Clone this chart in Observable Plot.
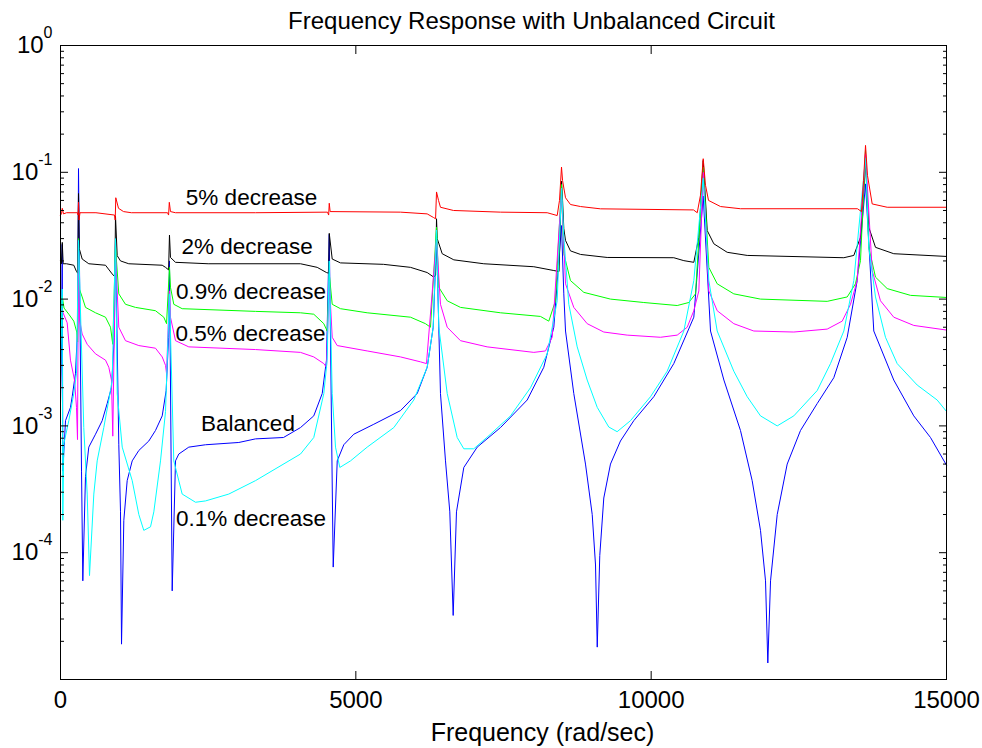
<!DOCTYPE html>
<html>
<head>
<meta charset="utf-8">
<script src="https://cdn.jsdelivr.net/npm/d3@7"></script>
<script src="https://cdn.jsdelivr.net/npm/@observablehq/plot@0.6"></script>
<style>
  html, body { margin: 0; padding: 0; background: #fff; }
  #chart svg { display: block; }
</style>
</head>
<body>
<div id="chart"></div>
<script>
// ---- Data: [frequency (rad/sec), magnitude] ----
const balanced = [[0,0.0015],[20,0.005],[29,0.027],[39,0.00044],[85,0.0011],[169,0.0014],[198,0.0017],[254,0.0026],[290,0.006],[305,0.107],[356,0.00044],[378,0.00006],[423,0.0004],[479,0.00068],[593,0.00086],[706,0.0011],[790,0.0015],[863,0.002],[910,0.005],[931,0.03],[987,0.00071],[1016,0.00021],[1033,0.000019],[1072,0.00018],[1129,0.00037],[1214,0.00053],[1326,0.00064],[1495,0.00076],[1608,0.00092],[1722,0.0012],[1789,0.0019],[1830,0.005],[1845,0.02],[1891,0.00005],[1947,0.00053],[2003,0.0006],[2172,0.00068],[2455,0.00071],[3019,0.00074],[3301,0.00079],[3775,0.00081],[4063,0.00097],[4288,0.0012],[4431,0.0018],[4503,0.0033],[4550,0.0324],[4617,0.000077],[4685,0.00053],[4796,0.00071],[4966,0.00086],[5304,0.00103],[5756,0.00132],[6039,0.0018],[6208,0.0029],[6310,0.006],[6366,0.03],[6433,0.0018],[6518,0.00053],[6591,0.00021],[6648,0.000032],[6704,0.00021],[6828,0.00047],[7055,0.00068],[7449,0.00097],[7901,0.0016],[8182,0.0029],[8352,0.006],[8482,0.038],[8521,0.011],[8550,0.0056],[8690,0.0018],[8888,0.0005],[9002,0.0002],[9058,0.00008],[9087,0.000018],[9130,0.000095],[9198,0.00027],[9311,0.0005],[9480,0.00076],[9706,0.0011],[10045,0.0017],[10383,0.0031],[10722,0.0072],[10881,0.065],[11005,0.0056],[11231,0.0023],[11512,0.00092],[11710,0.00037],[11851,0.00015],[11936,0.00006],[11975,0.0000135],[12021,0.00006],[12134,0.0002],[12303,0.0005],[12528,0.00092],[12811,0.0015],[13092,0.0024],[13319,0.005],[13488,0.014],[13629,0.081],[13769,0.0056],[14107,0.0023],[14446,0.0012],[14729,0.00081],[15000,0.00049]];

const dec01 = [[0,0.0025],[29,0.012],[39,0.00018],[56,0.00072],[141,0.0011],[225,0.0018],[271,0.0026],[305,0.029],[394,0.00097],[452,0.00029],[491,0.000066],[564,0.00029],[621,0.00053],[733,0.00097],[818,0.0016],[875,0.0023],[931,0.030],[960,0.0018],[1045,0.00068],[1214,0.00037],[1326,0.0002],[1410,0.00015],[1524,0.00016],[1580,0.00021],[1693,0.00053],[1778,0.0013],[1845,0.011],[1918,0.00053],[2060,0.00029],[2286,0.00025],[2455,0.000256],[2849,0.00029],[3301,0.00037],[4063,0.0006],[4288,0.00081],[4458,0.0018],[4515,0.0033],[4550,0.02],[4600,0.0018],[4656,0.00068],[4729,0.00047],[4910,0.00053],[5192,0.00068],[5643,0.00097],[5981,0.0016],[6208,0.0029],[6310,0.006],[6366,0.035],[6405,0.006],[6547,0.0018],[6716,0.00081],[6828,0.00066],[6997,0.00066],[7280,0.00086],[7619,0.0012],[7957,0.002],[8240,0.0037],[8409,0.0097],[8482,0.075],[8521,0.0307],[8606,0.0091],[8748,0.0042],[8917,0.0023],[9087,0.0014],[9282,0.00098],[9424,0.0009],[9650,0.0011],[9989,0.0017],[10271,0.0027],[10553,0.0056],[10722,0.014],[10881,0.09],[10976,0.014],[11118,0.0056],[11399,0.0027],[11626,0.0017],[11851,0.0012],[12134,0.001],[12415,0.0012],[12811,0.0019],[13036,0.0031],[13262,0.0056],[13431,0.014],[13629,0.13],[13684,0.0256],[13798,0.0104],[13967,0.005],[14165,0.0031],[14504,0.0021],[14842,0.0016],[15000,0.0013]];

const dec05 = [[0,0.0075],[15,0.0085],[29,0.0081],[113,0.0065],[169,0.0033],[237,0.0023],[271,0.0014],[288,0.00078],[305,0.028],[320,0.007],[367,0.0053],[452,0.0044],[593,0.0037],[762,0.0033],[818,0.0029],[863,0.0023],[885,0.00083],[931,0.023],[987,0.006],[1100,0.0047],[1326,0.0043],[1608,0.0041],[1722,0.0035],[1778,0.003],[1795,0.0026],[1845,0.0116],[1862,0.0072],[1947,0.0047],[2172,0.0042],[3301,0.004],[4063,0.0038],[4288,0.0035],[4458,0.0031],[4503,0.0029],[4550,0.014],[4600,0.005],[4685,0.0043],[5192,0.0039],[5756,0.0035],[6095,0.0032],[6196,0.0031],[6366,0.03],[6433,0.0091],[6547,0.006],[6772,0.0047],[7223,0.0042],[8013,0.0038],[8211,0.0039],[8324,0.005],[8482,0.07],[8550,0.0132],[8690,0.0086],[8917,0.0064],[9198,0.0055],[9594,0.0052],[10158,0.005],[10441,0.0052],[10610,0.006],[10722,0.0081],[10807,0.0116],[10881,0.1],[10976,0.0116],[11118,0.0081],[11399,0.0064],[11738,0.0056],[12415,0.0055],[12980,0.0058],[13234,0.0067],[13375,0.0091],[13488,0.014],[13629,0.14],[13742,0.0168],[13882,0.0097],[14107,0.0072],[14446,0.0062],[15000,0.0057]];

const dec09 = [[0,0.0055],[15,0.007],[29,0.0105],[60,0.0085],[141,0.0076],[225,0.0067],[275,0.0055],[290,0.0046],[305,0.030],[320,0.012],[367,0.0104],[423,0.0086],[593,0.0078],[762,0.0072],[847,0.006],[885,0.0044],[931,0.026],[987,0.011],[1100,0.0091],[1270,0.0086],[1608,0.0081],[1749,0.0072],[1795,0.0064],[1845,0.0178],[1862,0.0124],[1918,0.0091],[2060,0.0084],[3301,0.008],[4063,0.0078],[4288,0.0076],[4458,0.0064],[4515,0.0056],[4550,0.0158],[4600,0.0091],[4740,0.0084],[5192,0.0078],[5926,0.0072],[6179,0.0064],[6264,0.006],[6366,0.037],[6405,0.0124],[6547,0.0097],[6772,0.0086],[7449,0.0078],[8126,0.0073],[8267,0.0067],[8380,0.0097],[8482,0.08],[8521,0.0228],[8634,0.014],[8860,0.0113],[9311,0.01],[9875,0.0094],[10441,0.0089],[10637,0.0094],[10751,0.011],[10881,0.11],[10976,0.0178],[11118,0.0132],[11399,0.011],[11851,0.01],[12980,0.0096],[13319,0.0104],[13459,0.0132],[13544,0.0201],[13629,0.15],[13684,0.0256],[13798,0.0149],[13996,0.0121],[14391,0.0107],[15000,0.0103]];

const dec2 = [[0,0.02],[15,0.019],[30,0.028],[45,0.019],[100,0.019],[225,0.0185],[271,0.0165],[292,0.016],[305,0.068],[318,0.025],[367,0.0207],[479,0.019],[762,0.0185],[875,0.0158],[920,0.015],[931,0.045],[960,0.022],[1016,0.020],[1156,0.019],[1722,0.0185],[1778,0.0178],[1830,0.017],[1845,0.032],[1862,0.0213],[1947,0.0195],[2500,0.019],[4063,0.019],[4346,0.0178],[4503,0.0162],[4540,0.016],[4550,0.033],[4600,0.0207],[4740,0.0193],[5468,0.0188],[5926,0.0178],[6208,0.0162],[6320,0.0149],[6350,0.0155],[6366,0.043],[6378,0.030],[6462,0.0228],[6659,0.0204],[7166,0.019],[8013,0.018],[8352,0.0168],[8440,0.0165],[8482,0.085],[8500,0.06],[8521,0.036],[8550,0.029],[8634,0.024],[8804,0.0225],[9255,0.0213],[10383,0.0212],[10553,0.0201],[10722,0.0195],[10807,0.0307],[10881,0.124],[10949,0.0347],[11061,0.0273],[11287,0.0234],[11626,0.0221],[13262,0.0212],[13431,0.0221],[13544,0.0307],[13629,0.117],[13684,0.0369],[13798,0.0256],[14107,0.0228],[15000,0.0217]];

const dec5 = [[0,0.046],[17,0.047],[30,0.052],[51,0.047],[102,0.048],[288,0.048],[298,0.046],[305,0.058],[313,0.042],[330,0.048],[600,0.048],[914,0.046],[926,0.042],[936,0.063],[982,0.052],[1067,0.049],[1200,0.048],[1812,0.048],[1830,0.046],[1842,0.058],[1862,0.049],[1947,0.048],[3300,0.048],[4520,0.0485],[4540,0.046],[4550,0.057],[4565,0.049],[5756,0.0485],[6208,0.047],[6315,0.044],[6350,0.043],[6366,0.070],[6400,0.060],[6433,0.053],[6653,0.050],[7449,0.0485],[8240,0.048],[8409,0.0456],[8448,0.060],[8482,0.110],[8500,0.086],[8550,0.063],[8634,0.0557],[8804,0.0537],[9142,0.0515],[10717,0.0505],[10780,0.048],[10835,0.066],[10881,0.128],[10920,0.079],[10971,0.060],[11174,0.0537],[11512,0.0516],[13493,0.0516],[13561,0.049],[13595,0.086],[13629,0.163],[13663,0.094],[13742,0.0563],[13996,0.053],[15000,0.053]];

// Series: name, colour, data (drawing order)
const seriesNames  = ["Balanced", "2% decrease", "0.9% decrease", "0.5% decrease", "0.1% decrease", "5% decrease"];
const seriesColors = ["#0000ff", "#000000", "#00ff00", "#ff00ff", "#00ffff", "#ff0000"];
const seriesData   = [balanced, dec2, dec09, dec05, dec01, dec5];

// In-plot annotations
const labelText = ["5% decrease", "2% decrease", "0.9% decrease", "0.5% decrease", "Balanced", "0.1% decrease"];
const labelFreq = [3234, 3161, 3225, 3217, 3174, 3225];
const labelMag  = [0.0625, 0.0257, 0.01135, 0.00532, 0.00103, 0.000185];

// Ticks
const xTicks = [0, 5000, 10000, 15000];
const yMajor = [1e-4, 1e-3, 1e-2, 1e-1, 1];
const yMinor = [];
for (const d of [1e-5, 1e-4, 1e-3, 1e-2, 1e-1]) for (let m = 2; m <= 9; m++) yMinor.push(+(m * d).toPrecision(3));

const titleText = "Frequency Response with Unbalanced Circuit";
const xLabelText = "Frequency (rad/sec)";

const labels = labelText.map((t, i) => ({t, f: labelFreq[i], v: labelMag[i]}));

const lineMarks = seriesData.map((data, i) =>
  Plot.line(data.map(([f, v]) => ({f, v})), {x: "f", y: "v", stroke: seriesColors[i], strokeWidth: 1})
);

const blank = () => "";
const svg = Plot.plot({
  width: 982,
  height: 748,
  marginLeft: 60,
  marginRight: 36,
  marginTop: 45,
  marginBottom: 69,
  style: {fontFamily: "'Liberation Sans', Arial, Helvetica, sans-serif", fontSize: "24px", background: "#fff", color: "#000"},
  x: {domain: [0, 15000]},
  y: {type: "log", domain: [1e-5, 1]},
  marks: [
    ...lineMarks,
    Plot.text(labels, {x: "f", y: "v", text: "t", fontSize: 22.5, textAnchor: "middle", lineAnchor: "middle", fill: "#000"}),
    Plot.frame({stroke: "#000", strokeWidth: 1}),
    // labels (no ticks)
    Plot.axisX(xTicks, {anchor: "bottom", tickSize: 0, tickPadding: 11, tickFormat: d => String(d), label: null, fontSize: 24}),
    Plot.axisY(yMajor, {anchor: "left", tickSize: 0, tickPadding: 8, tickFormat: d => "10|" + Math.round(Math.log10(d)), label: null, fontSize: 24}),
    // inward ticks
    Plot.axisX(xTicks, {anchor: "bottom", tickSize: 8, dy: -8, tickFormat: blank, label: null}),
    Plot.axisX(xTicks, {anchor: "top", tickSize: 8, dy: 8, tickFormat: blank, label: null}),
    Plot.axisY(yMajor, {anchor: "left", tickSize: 8, dx: 8, tickFormat: blank, label: null}),
    Plot.axisY(yMinor, {anchor: "left", tickSize: 4, dx: 4, tickFormat: blank, label: null}),
    Plot.axisY(yMajor, {anchor: "right", tickSize: 8, dx: -8, tickFormat: blank, label: null}),
    Plot.axisY(yMinor, {anchor: "right", tickSize: 4, dx: -4, tickFormat: blank, label: null}),
    Plot.text([titleText], {text: d => d, frameAnchor: "top", dx: 28, dy: -24, fontSize: 24, lineAnchor: "middle", fill: "#000"}),
    Plot.text([xLabelText], {text: d => d, frameAnchor: "bottom", dx: 39, dy: 53, fontSize: 25, lineAnchor: "middle", fill: "#000", letterSpacing: "1px"})
  ]
});

// Superscript exponents on the log-axis tick labels
svg.querySelectorAll('g[aria-label="y-axis tick label"] text').forEach(t => {
  const s = t.textContent;
  if (!s.includes("|")) return;
  const [b, e] = s.split("|");
  t.textContent = "";
  t.appendChild(document.createTextNode(b));
  const ts = document.createElementNS("http://www.w3.org/2000/svg", "tspan");
  ts.setAttribute("dy", "-15");
  ts.setAttribute("font-size", "16");
  ts.textContent = e;
  t.appendChild(ts);
});

document.getElementById("chart").appendChild(svg);
</script>
</body>
</html>
